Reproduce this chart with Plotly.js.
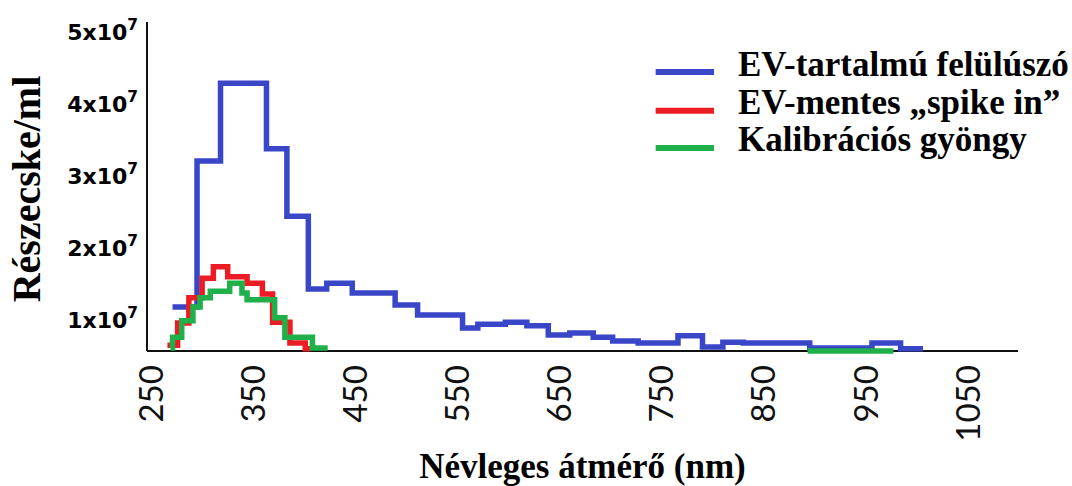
<!DOCTYPE html>
<html>
<head>
<meta charset="utf-8">
<script src="https://cdn.plot.ly/plotly-3.0.1.min.js"></script>
<style>html,body{margin:0;padding:0;background:#fff;}#chart{width:1072px;height:486px;}</style>
</head>
<body>
<div id="chart"></div>
<script>
// Series names (legend)
const seriesNames = ['EV-tartalmú felülúszó', 'EV-mentes „spike in”', 'Kalibrációs gyöngy'];
const seriesColors = ['#3a46c8', '#ec1c24', '#1fb04a'];

// Step histograms: bin edges (nm) and heights (particles/ml)
const blueEdges = [270, 294, 317, 362, 382, 403, 421, 446, 488, 510, 554, 569, 596, 617, 638, 659, 682, 701, 726, 765, 789, 809, 829, 894, 955, 983, 1005];
const blueVals  = [1.18e7, 3.21e7, 4.29e7, 3.38e7, 2.44e7, 1.43e7, 1.51e7, 1.375e7, 1.21e7, 1.07e7, 0.89e7, 0.94e7, 0.97e7, 0.92e7, 0.79e7, 0.82e7, 0.76e7, 0.71e7, 0.68e7, 0.78e7, 0.625e7, 0.69e7, 0.68e7, 0.61e7, 0.68e7, 0.60e7];

const redEdges = [265, 275, 286, 299, 310, 324, 343, 358, 368, 385, 400, 405];
const redVals  = [0.65e7, 0.96e7, 1.31e7, 1.58e7, 1.74e7, 1.60e7, 1.51e7, 1.36e7, 0.97e7, 0.68e7, 0.60e7];

const greenEdges = [268, 270, 279, 290, 297, 307, 326, 338, 343, 370, 380, 407, 422];
const greenVals  = [0.61e7, 0.76e7, 0.99e7, 1.18e7, 1.31e7, 1.40e7, 1.51e7, 1.375e7, 1.28e7, 1.03e7, 0.76e7, 0.61e7];
const greenTailEdges = [892, 976];
const greenTailVals  = [0.57e7];

// Axis ticks
const xTickVals = [250, 350, 450, 550, 650, 750, 850, 950, 1050];
const yTickVals = [1e7, 2e7, 3e7, 4e7, 5e7];
const yTickText = ['1x10<sup>7</sup>', '2x10<sup>7</sup>', '3x10<sup>7</sup>', '4x10<sup>7</sup>', '5x10<sup>7</sup>'];
const baselineVal = 0.57e7;

function stepXY(edges, vals) {
  return {x: edges.slice(), y: vals.concat([vals[vals.length - 1]])};
}

const b = stepXY(blueEdges, blueVals);
const r = stepXY(redEdges, redVals);
const g = stepXY(greenEdges, greenVals);
const gt = stepXY(greenTailEdges, greenTailVals);

const lw = 5.5;
const traces = [
  {x: b.x, y: b.y, name: seriesNames[0], mode: 'lines', line: {shape: 'hv', color: seriesColors[0], width: lw}},
  {x: r.x, y: r.y, name: seriesNames[1], mode: 'lines', line: {shape: 'hv', color: seriesColors[1], width: lw}},
  {x: g.x.concat([null], gt.x), y: g.y.concat([null], gt.y), name: seriesNames[2], mode: 'lines', connectgaps: false, line: {shape: 'hv', color: seriesColors[2], width: lw}}
];

// Manual legend (long line samples)
const legendY = [0.85, 0.734, 0.623];
const shapes = [
  {type: 'line', xref: 'paper', yref: 'y', x0: 0, x1: 0, y0: baselineVal, y1: 5.14e7, line: {color: '#111', width: 2}, layer: 'below'}
];
const annotations = [];
seriesNames.forEach((n, i) => {
  shapes.push({type: 'line', xref: 'paper', yref: 'paper', x0: 0.584, x1: 0.651, y0: legendY[i], y1: legendY[i], line: {color: seriesColors[i], width: 6}});
  annotations.push({xref: 'paper', yref: 'paper', x: 0.676, y: legendY[i], yshift: 8, xanchor: 'left', yanchor: 'middle', showarrow: false, text: '<b>' + n + '</b>', font: {family: 'Liberation Serif, Times New Roman, serif', size: 35, color: '#000'}});
});

const layout = {
  width: 1072, height: 486,
  margin: {l: 147, r: 54, t: 22, b: 130},
  paper_bgcolor: '#fff', plot_bgcolor: '#fff',
  showlegend: false,
  xaxis: {
    range: [245, 1098], anchor: 'free', position: 0.015,
    tickvals: xTickVals, tickangle: -90, ticks: '', showgrid: false, zeroline: false,
    showline: true, linecolor: '#111', linewidth: 2, layer: 'below traces',
    tickfont: {family: 'Lato, sans-serif', size: 33, color: '#111'},
    title: {text: '<b>Névleges átmérő (nm)</b>', font: {family: 'Liberation Serif, Times New Roman, serif', size: 35, color: '#000'}, standoff: 12}
  },
  yaxis: {
    range: [0.5e7, 5.139e7], tickvals: yTickVals, ticktext: yTickText, ticks: '',
    showgrid: false, zeroline: false, showline: false,
    tickfont: {family: 'DejaVu Sans, sans-serif', size: 22, color: '#000', weight: 'bold'},
    ticklabelstandoff: 8,
    title: {text: '<b>Részecske/ml</b>', font: {family: 'Liberation Serif, Times New Roman, serif', size: 40, color: '#000'}, standoff: 14}
  },
  shapes: shapes,
  annotations: annotations
};

Plotly.newPlot('chart', traces, layout, {displayModeBar: false, staticPlot: true});
</script>
</body>
</html>
